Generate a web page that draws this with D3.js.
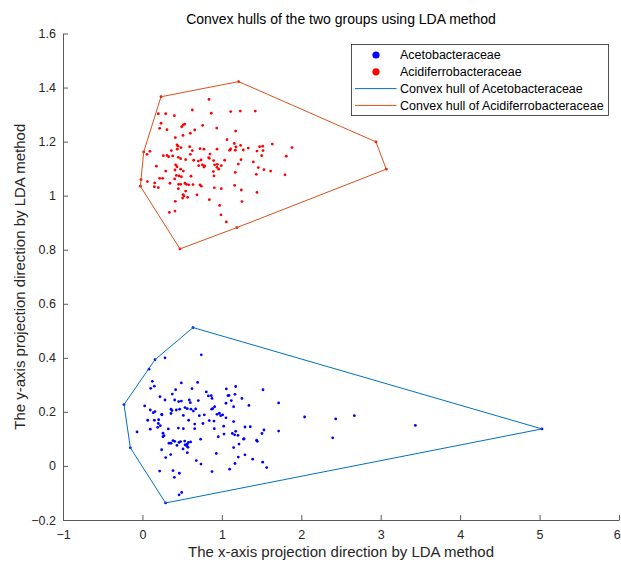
<!DOCTYPE html>
<html>
<head>
<meta charset="utf-8">
<script src="https://cdn.jsdelivr.net/npm/d3@7"></script>
<style>
  body { margin: 0; background: #fff; }
  svg { display: block; font-family: "Liberation Sans", Arial, sans-serif; }
</style>
</head>
<body>
<div id="chart"></div>
<script>
// Acetobacteraceae projections (x, y)
const acetoX = [0.637, 0.158, 0.083, -0.232, -0.152, 0.292, 5.030,
  0.284, 0.741, 0.125, 0.150, 0.104, 0.490, 0.695, 0.624, 0.418, 0.376, 0.221, 0.284, 0.406, 0.456,
  0.490, 0.590, 0.603, 0.704, 0.804, 0.830, 0.876, 0.867, 1.056, 1.174, 1.165, 1.077, 1.090, 1.119,
  1.052, 1.253, 1.341, 1.518, 1.715, 2.042, 0.028, 0.099, 0.158, 0.137, 0.242, 0.246, 0.360, 0.372,
  0.360, 0.427, 0.469, 0.536, 0.515, 0.565, 0.611, 0.641, 0.670, 0.716, 0.779, 0.872, 0.884, 0.909,
  0.939, 0.968, 0.985, 1.010, 1.052, 0.842, 0.901, 1.148, 0.066, 0.150, 0.204, 0.200, 0.225, 0.326,
  0.452, 0.515, 0.582, 0.658, 0.658, 0.762, 0.905, 1.023, 1.148, -0.068, 0.099, 0.192, 0.259, 0.272,
  0.259, 0.334, 0.360, 0.385, 0.406, 0.460, 0.481, 0.532, 0.536, 0.553, 0.565, 0.561, 0.578, 0.607,
  0.511, 0.574, 0.565, 0.435, 0.733, 0.955, 1.027, 1.132, 1.161, 1.174, 1.203, 1.216, 1.274, 1.279,
  1.148, 1.291, 1.358, 1.438, 1.446, 1.505, 1.530, 1.715, 0.242, 0.356, 0.293, 0.678, 0.737, 0.930,
  0.876, 1.098, 1.165, 1.207, 1.291, 1.388, 1.514, 1.564, 0.217, 0.385, 0.465, 0.402, 0.494, 0.461,
  2.433, 2.668, 2.395, 3.436];
const acetoY = [0.512, 0.393, 0.358, 0.227, 0.067, -0.137, 0.137,
  0.400, 0.411, 0.313, 0.295, 0.287, 0.307, 0.309, 0.286, 0.282, 0.266, 0.256, 0.244, 0.244, 0.238,
  0.240, 0.244, 0.234, 0.242, 0.274, 0.259, 0.250, 0.260, 0.285, 0.294, 0.265, 0.260, 0.261, 0.242,
  0.232, 0.250, 0.224, 0.282, 0.233, 0.181, 0.222, 0.207, 0.201, 0.197, 0.191, 0.189, 0.210, 0.205,
  0.194, 0.207, 0.210, 0.216, 0.187, 0.212, 0.210, 0.203, 0.211, 0.186, 0.189, 0.210, 0.212, 0.219,
  0.191, 0.195, 0.186, 0.189, 0.178, 0.168, 0.166, 0.219, 0.169, 0.169, 0.171, 0.157, 0.149, 0.137,
  0.140, 0.138, 0.169, 0.155, 0.138, 0.157, 0.138, 0.147, 0.164, 0.126, 0.136, 0.143, 0.121, 0.112,
  0.108, 0.084, 0.084, 0.094, 0.091, 0.087, 0.090, 0.092, 0.078, 0.078, 0.081, 0.073, 0.087, 0.089,
  0.063, 0.069, 0.049, 0.076, 0.099, 0.108, 0.118, 0.120, 0.115, 0.128, 0.113, 0.081, 0.099, 0.101,
  0.068, 0.144, 0.145, 0.095, 0.091, 0.120, 0.133, 0.129, 0.060, 0.042, 0.031, 0.020, 0.007, 0.046,
  -0.021, -0.012, 0.009, 0.033, 0.041, 0.025, 0.014, -0.006, -0.019, -0.017, -0.027, -0.042, -0.098, -0.107,
  0.174, 0.186, 0.104, 0.150];

// Acidiferrobacteraceae projections (x, y)
const acidiX = [0.234, 1.211, 2.940, 3.070, 1.190, 0.473, -0.026, -0.018, 0.016,
  0.838, 0.628, 0.867, 1.111, 1.232, 1.421, 0.200, 0.293, 0.402, 0.234, 0.217, 0.309, 0.494, 0.515,
  0.532, 0.758, 0.935, 0.658, 0.603, 1.174, 0.511, 0.414, 1.065, 1.157, 1.236, 1.635, 1.883, 0.435,
  0.448, 0.486, 0.595, 0.439, 0.364, 0.628, 0.725, 0.775, 0.939, 1.111, 1.178, 1.098, 1.169, 1.270,
  1.333, 1.442, 1.476, 1.514, 1.518, 1.501, 0.095, 0.058, 0.263, 0.309, 0.330, 0.381, 0.452, 0.481,
  0.544, 0.603, 0.851, 0.842, 0.897, 0.645, 0.704, 0.737, 0.754, 0.775, 0.708, 0.783, 0.834, 0.943,
  0.909, 0.939, 0.960, 0.993, 1.035, 1.241, 1.207, 1.396, 1.459, 1.530, 1.614, 1.811, 0.175, 0.293,
  0.418, 0.435, 0.410, 0.481, 0.515, 0.427, 0.460, 0.490, 0.611, 0.893, 0.901, 1.169, 1.434, 1.795,
  0.217, 0.255, 0.406, 0.062, 0.154, 0.150, 0.200, 0.347, 0.456, 0.481, 0.536, 0.553, 0.582, 0.637,
  0.725, 0.741, 0.905, 0.993, 1.161, 1.245, 0.452, 0.544, 0.511, 0.523, 0.569, 0.506, 0.687, 0.842,
  0.414, 1.253, 1.442, 0.972, 0.339, 0.410, 0.989, 1.056];
const acidiY = [1.366, 1.422, 1.199, 1.098, 0.882, 0.803, 1.035, 1.059, 1.162,
  1.356, 1.317, 1.305, 1.311, 1.313, 1.313, 1.303, 1.303, 1.296, 1.268, 1.249, 1.244, 1.255, 1.262,
  1.265, 1.260, 1.250, 1.243, 1.231, 1.239, 1.223, 1.215, 1.207, 1.193, 1.186, 1.191, 1.178, 1.188,
  1.183, 1.178, 1.181, 1.172, 1.167, 1.167, 1.174, 1.172, 1.172, 1.173, 1.180, 1.168, 1.168, 1.169,
  1.176, 1.165, 1.181, 1.183, 1.167, 1.148, 1.164, 1.153, 1.148, 1.149, 1.144, 1.147, 1.142, 1.137,
  1.133, 1.153, 1.154, 1.138, 1.130, 1.131, 1.128, 1.132, 1.114, 1.106, 1.111, 1.110, 1.141, 1.116,
  1.114, 1.105, 1.098, 1.111, 1.131, 1.133, 1.117, 1.125, 1.104, 1.096, 1.091, 1.146, 1.109, 1.091,
  1.114, 1.107, 1.095, 1.098, 1.091, 1.075, 1.073, 1.070, 1.072, 1.089, 1.073, 1.086, 1.079, 1.077,
  1.064, 1.064, 1.062, 1.052, 1.047, 1.033, 1.030, 1.046, 1.042, 1.042, 1.046, 1.042, 1.040, 1.041,
  1.040, 1.035, 1.029, 1.026, 1.038, 1.021, 1.026, 1.017, 1.004, 0.999, 0.994, 0.991, 1.003, 0.985,
  0.979, 0.978, 1.012, 0.964, 0.938, 0.943, 0.929, 0.903];

const xTicks = [-1, 0, 1, 2, 3, 4, 5, 6];
const yTicks = [-0.2, 0, 0.2, 0.4, 0.6, 0.8, 1, 1.2, 1.4, 1.6];
const legendLabels = ["Acetobacteraceae", "Acidiferrobacteraceae",
  "Convex hull of Acetobacteraceae", "Convex hull of Acidiferrobacteraceae"];

const width = 621, height = 563;
const margin = {left: 63, right: 2, top: 33.5, bottom: 43};

const x = d3.scaleLinear().domain([-1, 6]).range([margin.left, width - margin.right]);
const y = d3.scaleLinear().domain([-0.2, 1.6]).range([height - margin.bottom, margin.top]);

const svg = d3.select("#chart").append("svg")
  .attr("width", width)
  .attr("height", height);

const groups = [
  {name: legendLabels[0], xs: acetoX, ys: acetoY, dot: "#0000ff", hull: "#0072BD"},
  {name: legendLabels[1], xs: acidiX, ys: acidiY, dot: "#ff0000", hull: "#D95319"}
];

// points
groups.forEach(g => {
  const pts = g.xs.map((v, i) => [v, g.ys[i]]);
  svg.append("g")
    .selectAll("circle")
    .data(pts)
    .join("circle")
    .attr("cx", d => x(d[0]))
    .attr("cy", d => y(d[1]))
    .attr("r", 1.4)
    .attr("fill", g.dot);
  g.pts = pts;
});

// hulls
groups.forEach(g => {
  const hull = d3.polygonHull(g.pts);
  svg.append("path")
    .datum(hull)
    .attr("d", d => d3.line().x(p => x(p[0])).y(p => y(p[1])).curve(d3.curveLinearClosed)(d))
    .attr("fill", "none")
    .attr("stroke", g.hull)
    .attr("stroke-width", 1);
});

// axes (box off, ticks inside)
const axisColor = "#5a5a5a";
const xAxis = svg.append("g")
  .attr("transform", `translate(0,${y(-0.2)})`)
  .call(d3.axisBottom(x).tickValues(xTicks).tickSizeInner(-5).tickSizeOuter(0).tickPadding(10).tickFormat(d3.format("")));
const yAxis = svg.append("g")
  .attr("transform", `translate(${x(-1)},0)`)
  .call(d3.axisLeft(y).tickValues(yTicks).tickSizeInner(-5).tickSizeOuter(0).tickPadding(7).tickFormat(d => d3.format("")(+d.toFixed(1))));
[xAxis, yAxis].forEach(a => {
  a.selectAll("path, line").attr("stroke", axisColor);
  a.selectAll("text").attr("fill", "#262626").style("font-size", "12.5px")
    .style("font-family", "'Liberation Sans', Arial, sans-serif");
});
// the last x label sits on the right edge, keep it inside the page
xAxis.selectAll(".tick").filter(d => d === 6).select("text").attr("text-anchor", "end").attr("dx", "0.1em");

// title and labels
svg.append("text")
  .attr("x", (x(-1) + x(6)) / 2)
  .attr("y", 24)
  .attr("text-anchor", "middle")
  .attr("fill", "#000")
  .style("font-size", "14px")
  .text("Convex hulls of the two groups using LDA method");

svg.append("text")
  .attr("x", (x(-1) + x(6)) / 2)
  .attr("y", 557)
  .attr("text-anchor", "middle")
  .attr("fill", "#262626")
  .style("font-size", "15px")
  .text("The x-axis projection direction by LDA method");

svg.append("text")
  .attr("transform", `translate(25,${(y(-0.2) + y(1.6)) / 2}) rotate(-90)`)
  .attr("text-anchor", "middle")
  .attr("fill", "#262626")
  .style("font-size", "15px")
  .text("The y-axis projection direction by LDA method");

// legend
const legend = svg.append("g").attr("transform", "translate(351.5,44.5)");
legend.append("rect")
  .attr("width", 257)
  .attr("height", 71)
  .attr("fill", "#fff")
  .attr("stroke", "#262626")
  .attr("stroke-width", 0.8);

const rows = [
  {label: legendLabels[0], type: "dot", color: groups[0].dot},
  {label: legendLabels[1], type: "dot", color: groups[1].dot},
  {label: legendLabels[2], type: "line", color: groups[0].hull},
  {label: legendLabels[3], type: "line", color: groups[1].hull}
];
const row = legend.selectAll("g.row")
  .data(rows)
  .join("g")
  .attr("class", "row")
  .attr("transform", (d, i) => `translate(0,${10.5 + i * 16.8})`);
row.filter(d => d.type === "dot").append("circle")
  .attr("cx", 24.5).attr("cy", 0).attr("r", 3.6)
  .attr("fill", d => d.color);
row.filter(d => d.type === "line").append("line")
  .attr("x1", 3.5).attr("x2", 45).attr("y1", 0).attr("y2", 0)
  .attr("stroke", d => d.color).attr("stroke-width", 1);
row.append("text")
  .attr("x", 48.5)
  .attr("y", 0)
  .attr("dy", "0.35em")
  .attr("fill", "#000")
  .style("font-size", "12.5px")
  .text(d => d.label);
</script>
</body>
</html>
